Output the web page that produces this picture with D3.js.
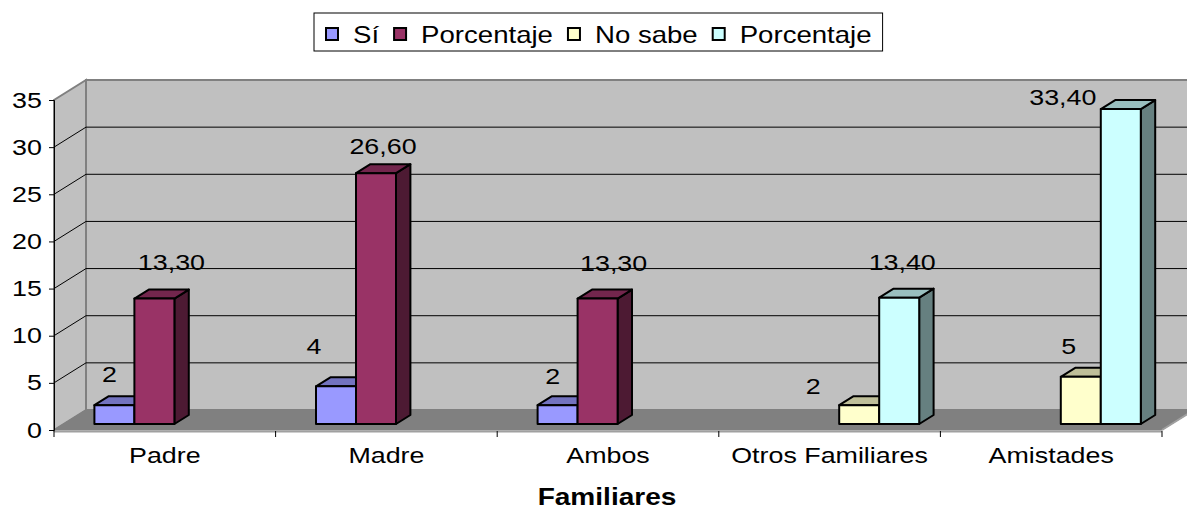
<!DOCTYPE html>
<html>
<head>
<meta charset="utf-8">
<script src="https://cdn.jsdelivr.net/npm/d3@7"></script>
<style>
  body { margin: 0; background: #fff; }
  text { font-family: "Liberation Sans", Arial, sans-serif; fill: #000; }
</style>
</head>
<body>
<div class="canvas"></div>
<script>
// data
const categories = ["Padre", "Madre", "Ambos", "Otros Familiares", "Amistades"];
const seriesNames = ["Sí", "Porcentaje", "No sabe", "Porcentaje"];
const siValues = [2, 4, 2, 0, 0];
const porcentajeValues = [13.3, 26.6, 13.3, 0, 0];
const noSabeValues = [0, 0, 0, 2, 5];
const porcentaje2Values = [0, 0, 0, 13.4, 33.4];
const yTicks = [0, 5, 10, 15, 20, 25, 30, 35];
const axisTitle = "Familiares";

const seriesValues = [siValues, porcentajeValues, noSabeValues, porcentaje2Values];
const colors = ["#9999ff", "#993366", "#ffffcc", "#ccffff"];

// data labels were left where Excel put them: nudge from bar front-top centre
const labelNudge = [
  [[-5, -31], [-22, -40], [-5, -29], null, null],
  [[17, -37], [7, -27], [16, -36], null, null],
  [null, null, null, [-46, -19], [-12, -31]],
  [null, null, null, [3, -36], [-58, -12]]
];

// dimensions
const w = 1187;
const h = 510;
const fontSize = 22;
const stretch = 1.22; // the source text is a bit wide
const DX = 32, DY = 20; // depth of the 3d box
const d0 = 0.3, dd = 0.45; // where the bars sit in depth

const svg = d3.select(".canvas").append("svg").attr("width", w).attr("height", h);

const yScale = d3.scaleLinear().domain([0, 35]).range([430, 100]);
const xScale = d3.scaleBand().domain(categories).range([54, 1162]);
const groupW = 160;
const sScale = d3.scaleBand().domain(d3.range(4)).range([0, groupW]);

const x0 = xScale.range()[0], x1 = xScale.range()[1];
const yb = yScale(0), yt = yScale(35);

const shade = (c, k) => {
  const r = d3.rgb(c);
  return d3.rgb(r.r * k, r.g * k, r.b * k).formatHex();
};

// walls and floor
svg.append("polygon")
  .attr("points", [[x0, yb], [x0, yt], [x0 + DX, yt - DY], [x0 + DX, yb - DY]].join(" "))
  .attr("fill", "#c0c0c0").attr("stroke", "#808080").attr("stroke-width", 2);
svg.append("polygon")
  .attr("points", [[x0 + DX, yb - DY], [x0 + DX, yt - DY], [x1 + DX, yt - DY], [x1 + DX, yb - DY]].join(" "))
  .attr("fill", "#c0c0c0").attr("stroke", "#808080").attr("stroke-width", 2);
svg.append("polygon")
  .attr("points", [[x0, yb], [x0 + DX, yb - DY], [x1 + DX, yb - DY], [x1, yb]].join(" "))
  .attr("fill", "#808080").attr("stroke", "#808080").attr("stroke-width", 1);
svg.append("line")
  .attr("x1", x0).attr("x2", x1).attr("y1", yb + 1.5).attr("y2", yb + 1.5)
  .attr("stroke", "#a0a0a0").attr("stroke-width", 2);

// gridlines
const grid = yTicks.filter(v => v > 0 && v < 35);
svg.selectAll(".gside").data(grid).enter().append("line")
  .attr("x1", x0).attr("y1", d => yScale(d))
  .attr("x2", x0 + DX).attr("y2", d => yScale(d) - DY)
  .attr("stroke", "#000").attr("stroke-width", 1);
svg.selectAll(".gback").data(grid).enter().append("line")
  .attr("x1", x0 + DX).attr("y1", d => yScale(d) - DY)
  .attr("x2", x1 + DX).attr("y2", d => yScale(d) - DY)
  .attr("stroke", "#000").attr("stroke-width", 1);

// y axis
const yAxis = d3.axisLeft(yScale).tickValues(yTicks).tickSize(5).tickPadding(5).tickFormat(d3.format("d"));
const yg = svg.append("g").attr("transform", `translate(${x0},0)`).call(yAxis);
yg.select(".domain").attr("stroke", "#000");
yg.selectAll("text").attr("font-size", fontSize).attr("font-family", null)
  .attr("transform", `scale(${stretch},1)`);

// x axis: labels at band centres, ticks at band edges
const xAxis = d3.axisBottom(xScale).tickSize(0).tickPadding(17);
const xg = svg.append("g").attr("transform", `translate(0,${yb})`).call(xAxis);
xg.select(".domain").remove();
xg.selectAll("text").attr("font-size", fontSize).attr("font-family", null)
  .attr("transform", `scale(${stretch},1)`);
const edges = categories.map(c => xScale(c)).concat([x1]);
svg.selectAll(".xtick").data(edges).enter().append("line")
  .attr("x1", d => d).attr("x2", d => d).attr("y1", yb + 1).attr("y2", yb + 7)
  .attr("stroke", "#000");
svg.append("line")
  .attr("x1", x1).attr("y1", yb).attr("x2", x1 + DX).attr("y2", yb - DY)
  .attr("stroke", "#a0a0a0").attr("stroke-width", 2);

// bars, left to right so each front face hides its neighbour's side
const bars = [];
categories.forEach((c, j) => {
  seriesValues.forEach((vals, i) => {
    if (vals[j] > 0) bars.push({ i, j, c, v: vals[j] });
  });
});

const ddx = dd * DX, ddy = dd * DY;
const barG = svg.append("g");
bars.forEach(b => {
  const bx0 = xScale(b.c) + (xScale.bandwidth() - groupW) / 2 + sScale(b.i) + d0 * DX;
  const bx1 = bx0 + sScale.bandwidth();
  const by0 = yScale(0) - d0 * DY;
  const by1 = yScale(b.v) - d0 * DY;
  b.cx = (bx0 + bx1) / 2;
  b.top = by1;
  const g = barG.append("g")
    .attr("stroke", "#000").attr("stroke-width", 2).attr("stroke-linejoin", "round");
  g.append("polygon")
    .attr("points", [[bx1, by1], [bx1 + ddx, by1 - ddy], [bx1 + ddx, by0 - ddy], [bx1, by0]].join(" "))
    .attr("fill", shade(colors[b.i], 0.5));
  g.append("polygon")
    .attr("points", [[bx0, by1], [bx0 + ddx, by1 - ddy], [bx1 + ddx, by1 - ddy], [bx1, by1]].join(" "))
    .attr("fill", shade(colors[b.i], 0.75));
  g.append("rect")
    .attr("x", bx0).attr("y", by1).attr("width", bx1 - bx0).attr("height", by0 - by1)
    .attr("fill", colors[b.i]);
});

// data labels
const fmtPct = v => v.toFixed(2).replace(".", ",");
bars.forEach(b => {
  const n = labelNudge[b.i][b.j] || [0, -30];
  const label = (b.i === 1 || b.i === 3) ? fmtPct(b.v) : String(b.v);
  svg.append("g")
    .attr("transform", `translate(${b.cx + n[0]},${b.top + n[1] + fontSize * 0.36})`)
    .append("text")
    .attr("text-anchor", "middle")
    .attr("font-size", fontSize)
    .attr("transform", `scale(${stretch},1)`)
    .text(label);
});

// axis title
svg.append("g")
  .attr("transform", `translate(607,505)`)
  .append("text")
  .attr("text-anchor", "middle")
  .attr("font-size", 23)
  .attr("font-weight", "bold")
  .attr("transform", `scale(${stretch},1)`)
  .text(axisTitle);

// legend
const legend = svg.append("g");
const legendBox = legend.append("rect")
  .attr("y", 13).attr("height", 38)
  .attr("fill", "#fff").attr("stroke", "#000").attr("stroke-width", 1);
let lx = 326;
seriesNames.forEach((name, i) => {
  legend.append("rect")
    .attr("x", lx).attr("y", 28).attr("width", 12).attr("height", 12)
    .attr("fill", colors[i]).attr("stroke", "#000").attr("stroke-width", 2);
  const t = legend.append("g")
    .attr("transform", `translate(${lx + 27},43)`)
    .append("text")
    .attr("font-size", 23)
    .attr("transform", "scale(1.2,1)")
    .text(name);
  lx += 27 + t.node().getComputedTextLength() * 1.2 + 15;
});
legendBox.attr("x", 314).attr("width", lx - 15 + 11 - 314);
</script>
</body>
</html>
